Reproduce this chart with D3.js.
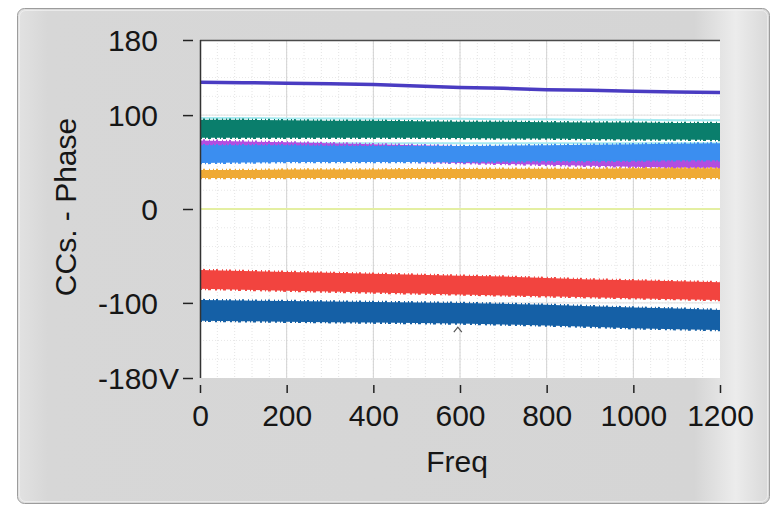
<!DOCTYPE html>
<html>
<head>
<meta charset="utf-8">
<title>CCs. - Phase</title>
<script src="https://d3js.org/d3.v7.min.js"></script>
<style>
  body { margin: 0; background: #fff; }
  svg text { font-family: "Liberation Sans", Arial, sans-serif; fill: #161616; }
</style>
</head>
<body>
<script>
const freqs = [0, 100, 200, 300, 400, 500, 600, 700, 800, 900, 1000, 1100, 1200]

// thin traces (phase, deg)
const purpleLine = [135, 134.5, 134, 133.5, 132.5, 131, 129.5, 128.5, 127, 126.5, 125.5, 124.5, 124]
const cyanTop    = [97, 97, 96.5, 96.5, 96, 96, 96, 95.5, 95.5, 95, 95, 94.5, 94.5]
const cyanLow    = [70, 70, 70, 70, 70, 70, 70, 70, 70, 70, 70, 70, 70]
const yellowLine = [0, 0, 0, 0, 0, 0, 0, 0, 0, 0, 0, 0, 0]

// noisy traces as envelopes (upper / lower)
const tealHi    = [95, 95, 94.5, 94, 94, 93.5, 93, 93, 92.5, 92, 92, 91.5, 91.5]
const tealLo    = [76, 76, 76, 76, 76, 76, 75.5, 75, 75, 74.5, 74, 74, 73.5]
const magentaHi = [73, 72, 71, 70, 69, 68, 67, 66, 65, 64, 63, 62, 62]
const magentaLo = [55, 54, 53, 52, 51, 50, 49, 48, 47, 46, 45, 44, 44]
const blueHi    = [68, 68, 68, 67.5, 67, 67, 67, 67.5, 68, 68.5, 69, 69.5, 70]
const blueLo    = [49, 49.5, 50, 50, 50, 50, 50, 50.5, 51, 51, 51.5, 52, 52]
const orangeHi  = [41.5, 41.5, 42, 42, 42, 42.5, 42.5, 43, 43, 43, 43.5, 43.5, 43.5]
const orangeLo  = [33, 33, 33, 33, 33, 33, 33, 33, 33, 33, 33, 33, 33]
const redHi     = [-65, -66, -67, -68, -69, -70, -71, -72, -73.5, -75, -76, -77, -78]
const redLo     = [-85, -86, -87, -88, -89, -90, -91, -92, -93, -94, -95, -96, -97]
const navyHi    = [-97, -97.5, -98, -98.5, -99, -99.5, -100, -101, -102, -103.5, -105, -106, -107.5]
const navyLo    = [-119, -119.5, -120, -120.5, -121, -121.5, -122, -123, -124, -125.5, -127, -128, -129]

// cursor mark
const cursor = [{freq: 595, value: -127}]

const xTicks = [0, 200, 400, 600, 800, 1000, 1200]
const yTicks = [180, 100, 0, -100, -180]

const width = 774, height = 507
const plot = {left: 200, right: 720, top: 40, bottom: 378}
const fontSize = "30px"

const svg = d3.select("body").append("svg")
    .attr("width", width)
    .attr("height", height)

const defs = svg.append("defs")
const grad = defs.append("linearGradient").attr("id", "panelGrad")
grad.append("stop").attr("offset", "0%").attr("stop-color", "#e2e2e2")
grad.append("stop").attr("offset", "4%").attr("stop-color", "#d7d7d7")
grad.append("stop").attr("offset", "90%").attr("stop-color", "#d5d5d5")
grad.append("stop").attr("offset", "95.5%").attr("stop-color", "#ececec")
grad.append("stop").attr("offset", "100%").attr("stop-color", "#d8d8d8")

// panel
svg.append("rect")
    .attr("x", 17.5).attr("y", 8.5)
    .attr("width", 752).attr("height", 495)
    .attr("rx", 7)
    .attr("fill", "url(#panelGrad)")
    .attr("stroke", "#9c9c9c")
svg.append("rect")
    .attr("x", 19.5).attr("y", 10.5)
    .attr("width", 748).attr("height", 491)
    .attr("rx", 6)
    .attr("fill", "none")
    .attr("stroke", "#f2f2f2")
    .attr("stroke-opacity", 0.7)

const x = d3.scaleLinear([0, 1200], [plot.left, plot.right])
const y = d3.scaleLinear([-180, 180], [plot.bottom, plot.top])

svg.append("rect")
    .attr("x", plot.left).attr("y", plot.top)
    .attr("width", plot.right - plot.left)
    .attr("height", plot.bottom - plot.top)
    .attr("fill", "#fff")

// grid
const grid = svg.append("g")
grid.selectAll(".minx").data(d3.range(40, 1200, 40))
  .join("line")
    .attr("x1", d => x(d)).attr("x2", d => x(d))
    .attr("y1", plot.top).attr("y2", plot.bottom)
    .attr("stroke", "#e4e4e4")
    .attr("stroke-dasharray", "1,2")
grid.selectAll(".miny").data(d3.range(-160, 180, 20))
  .join("line")
    .attr("x1", plot.left).attr("x2", plot.right)
    .attr("y1", d => y(d)).attr("y2", d => y(d))
    .attr("stroke", "#e8e8e8")
    .attr("stroke-dasharray", "1,2")
grid.selectAll(".majx").data(xTicks.slice(1, -1))
  .join("line")
    .attr("x1", d => x(d)).attr("x2", d => x(d))
    .attr("y1", plot.top).attr("y2", plot.bottom)
    .attr("stroke", "#d2d2d2")
grid.selectAll(".majy").data([100, -100])
  .join("line")
    .attr("x1", plot.left).attr("x2", plot.right)
    .attr("y1", d => y(d)).attr("y2", d => y(d))
    .attr("stroke", "#e0e0e0")

const line = d3.line().x((d, i) => x(freqs[i])).y(d => y(d))
const area = d3.area()
    .x(d => x(d.f))
    .y0(d => y(d.lo))
    .y1(d => y(d.hi))

function band(hi, lo, color) {
  const data = freqs.map((f, i) => ({f, hi: hi[i], lo: lo[i]}))
  const g = svg.append("g")
  g.append("path")
      .attr("d", area(data))
      .attr("fill", color)
  // ragged edges of the noise envelope
  g.append("path").attr("d", line(hi))
      .attr("fill", "none").attr("stroke", color)
      .attr("stroke-width", 2.5).attr("stroke-dasharray", "1,2,2,4,1,3")
  g.append("path").attr("d", line(lo))
      .attr("fill", "none").attr("stroke", color)
      .attr("stroke-width", 2.5).attr("stroke-dasharray", "2,3,1,2,3,4")
}

function trace(vals, color, w) {
  svg.append("path")
      .attr("d", line(vals))
      .attr("fill", "none")
      .attr("stroke", color)
      .attr("stroke-width", w)
}

trace(purpleLine, "#4a3cc2", 3.5)
trace(cyanTop, "#a6eaf0", 2)
trace(cyanLow, "#a6eaf0", 2)
band(tealHi, tealLo, "#0a7e6c")
band(magentaHi, magentaLo, "#b24de0")
band(blueHi, blueLo, "#3b8ef0")
band(orangeHi, orangeLo, "#efaa35")
trace(yellowLine, "#e4efa2", 2)
band(redHi, redLo, "#f2443f")
band(navyHi, navyLo, "#1560a6")

svg.selectAll(".cursor").data(cursor)
  .join("path")
    .attr("transform", d => `translate(${x(d.freq)},${y(d.value)})`)
    .attr("d", "M-4,4L0,-1L4,4")
    .attr("fill", "none")
    .attr("stroke", "#555")
    .attr("stroke-width", 1.2)

// frame
svg.append("line")
    .attr("x1", plot.left).attr("x2", plot.right)
    .attr("y1", plot.top + 0.5).attr("y2", plot.top + 0.5)
    .attr("stroke", "#4a4a4a").attr("stroke-width", 1.5)
svg.append("line")
    .attr("x1", plot.left + 0.5).attr("x2", plot.left + 0.5)
    .attr("y1", plot.top).attr("y2", plot.bottom)
    .attr("stroke", "#333").attr("stroke-width", 1.5)

// axes
const yAxis = svg.append("g")
    .attr("transform", `translate(${plot.left - 7},0)`)
    .call(d3.axisLeft(y).tickValues(yTicks).tickSize(10).tickPadding(25)
      .tickFormat(d => String(d)))
yAxis.select(".domain").remove()
yAxis.selectAll(".tick line").attr("stroke", "#222").attr("stroke-width", 1.5)
yAxis.selectAll("text").style("font-size", fontSize).attr("dy", "0.36em")
yAxis.selectAll(".tick").filter(d => d === -180)
  .append("text")
    .attr("x", -34).attr("dy", "0.36em")
    .attr("text-anchor", "start")
    .style("font-size", fontSize)
    .text("V")

const xAxis = svg.append("g")
    .attr("transform", `translate(0,${plot.bottom + 7})`)
    .call(d3.axisBottom(x).tickValues(xTicks).tickSize(8).tickPadding(12)
      .tickFormat(d => String(d)))
xAxis.select(".domain").remove()
xAxis.selectAll(".tick line").attr("stroke", "#222").attr("stroke-width", 1.5)
xAxis.selectAll("text").style("font-size", fontSize)

svg.append("text")
    .attr("x", (plot.left + plot.right) / 2 - 3)
    .attr("y", 472)
    .attr("text-anchor", "middle")
    .style("font-size", fontSize)
    .text("Freq")

svg.append("text")
    .attr("transform", "translate(76,207) rotate(-90)")
    .attr("text-anchor", "middle")
    .style("font-size", fontSize)
    .text("CCs. - Phase")
</script>
</body>
</html>
